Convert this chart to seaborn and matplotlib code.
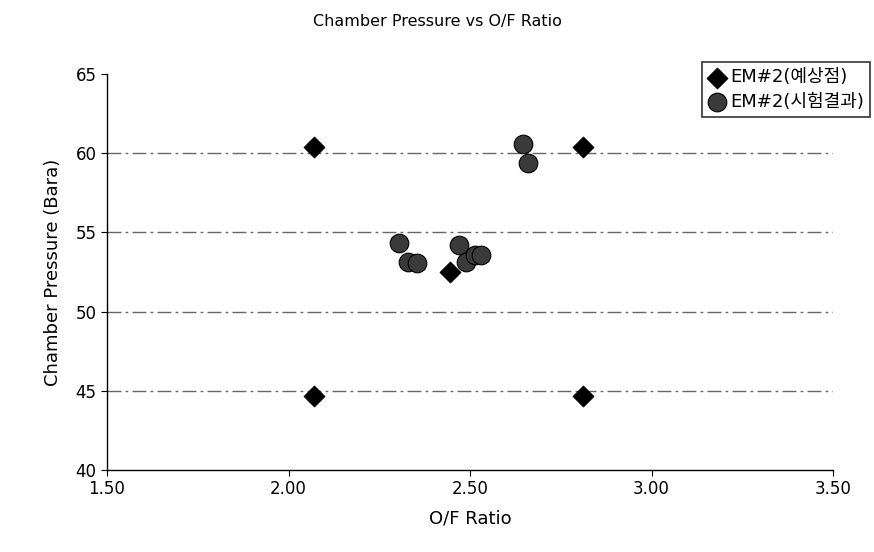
import pandas as pd
import matplotlib
matplotlib.use("Agg")
import matplotlib.pyplot as plt
import seaborn as sns

# data
pred_of = [2.07, 2.81, 2.07, 2.81, 2.445]
pred_pc = [60.4, 60.4, 44.7, 44.7, 52.5]

test_of = [2.305, 2.33, 2.355, 2.47, 2.49, 2.515, 2.53, 2.645, 2.66]
test_pc = [54.3, 53.1, 53.05, 54.2, 53.1, 53.6, 53.6, 60.6, 59.4]

x_ticks = [1.5, 2.0, 2.5, 3.0, 3.5]
y_ticks = [40, 45, 50, 55, 60, 65]

pred = pd.DataFrame({"of": pred_of, "pc": pred_pc})
test = pd.DataFrame({"of": test_of, "pc": test_pc})

sns.set_style("white")
plt.rcParams["font.family"] = ["DejaVu Sans", "Noto Sans CJK KR"]
plt.rcParams["text.color"] = "black"
plt.rcParams["axes.labelcolor"] = "black"
plt.rcParams["xtick.color"] = "black"
plt.rcParams["ytick.color"] = "black"

fig = plt.figure(figsize=(8.74, 5.52), dpi=100)
ax = fig.add_axes([107 / 874, 1 - 470 / 552, (833 - 107) / 874, (470 - 74) / 552])

# grid lines
for y in [45, 50, 55, 60]:
    ax.axhline(y, color="#666666", lw=1.0, ls=(0, (10, 3, 2, 3)), zorder=0)

sns.scatterplot(data=pred, x="of", y="pc", marker="D", s=110, color="black",
                edgecolor="black", ax=ax, label="EM#2(예상점)", zorder=3)
sns.scatterplot(data=test, x="of", y="pc", marker="o", s=180, color="#3a3a3a",
                edgecolor="black", linewidth=0.8, ax=ax, label="EM#2(시험결과)", zorder=3)

ax.set_xlim(1.5, 3.5)
ax.set_ylim(40, 65)
ax.set_xticks(x_ticks)
ax.set_xticklabels([f"{v:.2f}" for v in x_ticks])
ax.set_yticks(y_ticks)
ax.tick_params(labelsize=12, length=4, direction="out")
ax.tick_params(axis="x", bottom=True)
ax.tick_params(axis="y", left=True)

for s in ["top", "right"]:
    ax.spines[s].set_visible(False)
for s in ["left", "bottom"]:
    ax.spines[s].set_color("black")
    ax.spines[s].set_linewidth(1.0)

ax.set_xlabel("O/F Ratio", fontsize=13, labelpad=8)
ax.set_ylabel("Chamber Pressure (Bara)", fontsize=13, labelpad=10)
fig.suptitle("Chamber Pressure vs O/F Ratio", fontsize=11.5, y=0.975)

leg = ax.legend(loc="upper right", bbox_to_anchor=(870 / 874, 1 - 62 / 552),
                bbox_transform=fig.transFigure, frameon=True, fancybox=False,
                fontsize=13, handletextpad=0.2, borderpad=0.35, labelspacing=0.35,
                handlelength=1.0, borderaxespad=0)
leg.get_frame().set_edgecolor("black")
leg.get_frame().set_linewidth(1.2)

fig.savefig("out.png", dpi=100)
